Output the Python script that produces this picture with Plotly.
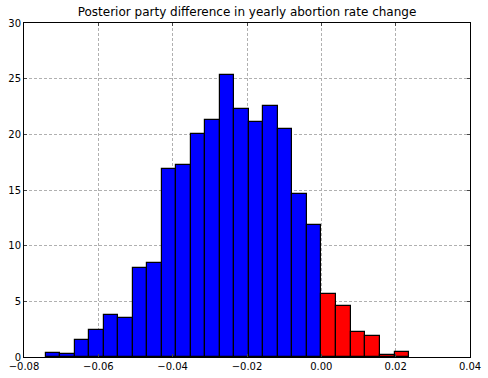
import plotly.graph_objects as go

# Blue (negative) histogram bins
blue_start = -0.07408
blue_end = 0.0
blue_counts = [0.33, 0.24, 1.5, 2.42, 3.74, 3.47, 7.95, 8.4, 16.9, 17.28,
               20.06, 21.3, 25.35, 22.3, 21.14, 22.57, 20.5, 14.68, 11.9]
# Red (positive) histogram bins
red_start = 0.0
red_end = 0.02366
red_counts = [5.62, 4.55, 2.21, 1.86, 0.15, 0.42]

x_ticks = [-0.08, -0.06, -0.04, -0.02, 0.0, 0.02, 0.04]
y_ticks = [0, 5, 10, 15, 20, 25, 30]
title = "Posterior party difference in yearly abortion rate change"


def centers(start, end, n):
    w = (end - start) / n
    return [start + w * (i + 0.5) for i in range(n)], w


bx, bw = centers(blue_start, blue_end, len(blue_counts))
rx, rw = centers(red_start, red_end, len(red_counts))

fig = go.Figure()
fig.add_trace(go.Bar(x=bx, y=blue_counts, width=bw,
                     marker=dict(color="#0000ff", line=dict(color="black", width=1.2))))
fig.add_trace(go.Bar(x=rx, y=red_counts, width=rw,
                     marker=dict(color="#ff0000", line=dict(color="black", width=1.2))))

axis_common = dict(
    showline=True, linecolor="black", linewidth=1, mirror="ticks",
    ticks="inside", ticklen=3, tickcolor="#444444",
    showgrid=True, gridcolor="#b0b0b0", griddash="3px,2px", gridwidth=1,
    zeroline=False, automargin=False,
    tickfont=dict(family="DejaVu Sans", size=10, color="black"),
)

fig.update_layout(
    width=488, height=378,
    margin=dict(l=24, r=18, t=23, b=21),
    paper_bgcolor="white", plot_bgcolor="white",
    showlegend=False, barmode="overlay", bargap=0,
    title=dict(text=title, x=0.5, xanchor="center", xref="paper",
               y=1 - 12 / 378, yanchor="middle", yref="container",
               font=dict(family="DejaVu Sans", size=12, color="black")),
    xaxis=dict(range=[-0.08, 0.04], tickvals=x_ticks, tickformat=".2f", **axis_common),
    yaxis=dict(range=[0, 30], tickvals=y_ticks, **axis_common),
)

fig.write_html("out.html", config={"displayModeBar": False},
               post_script="document.body.style.margin='0';document.body.style.overflow='hidden';")
